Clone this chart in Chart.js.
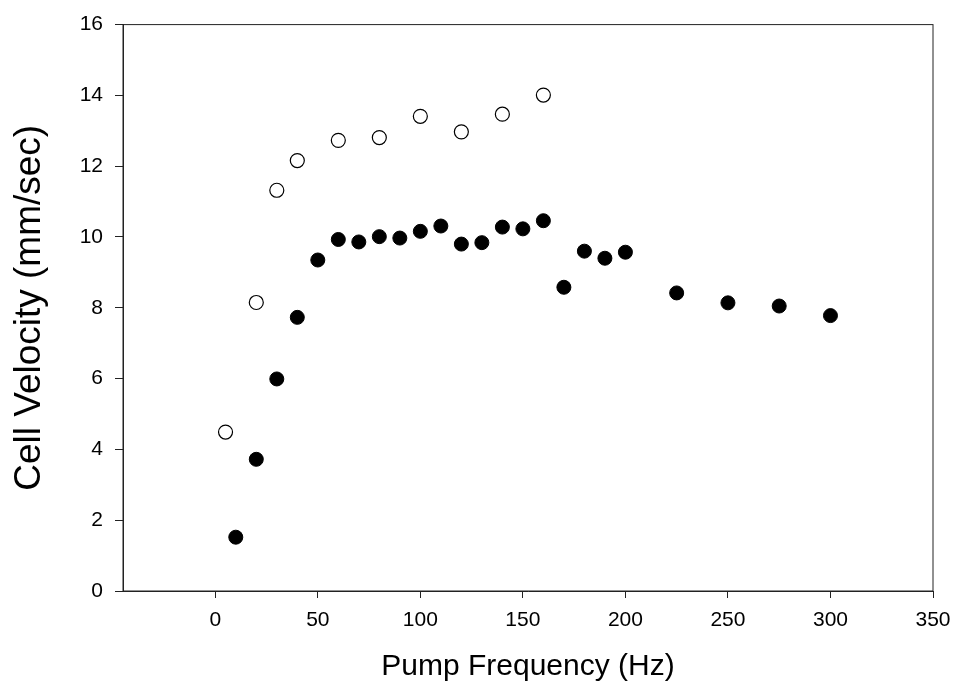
<!DOCTYPE html>
<html>
<head>
<meta charset="utf-8">
<script src="https://cdn.jsdelivr.net/npm/chart.js@4/dist/chart.umd.min.js"></script>
<style>
  html, body { margin: 0; padding: 0; background: #fff; }
  #wrap { width: 954px; height: 696px; }
</style>
</head>
<body>
<div id="wrap"><canvas id="chart"></canvas></div>
<script>
// filled circles series
const filledFreq = [10, 20, 30, 40, 50, 60, 70, 80, 90, 100, 110, 120, 130, 140, 150, 160, 170, 180, 190, 200, 225, 250, 275, 300];
const filledVel  = [1.52, 3.72, 5.99, 7.73, 9.35, 9.93, 9.86, 10.01, 9.97, 10.16, 10.31, 9.80, 9.84, 10.28, 10.23, 10.46, 8.58, 9.60, 9.40, 9.57, 8.42, 8.14, 8.05, 7.78];

// open circles series
const openFreq = [5, 20, 30, 40, 60, 80, 100, 120, 140, 160];
const openVel  = [4.49, 8.15, 11.32, 12.16, 12.73, 12.81, 13.41, 12.97, 13.47, 14.01];

// tick labels
const xTicks = [0, 50, 100, 150, 200, 250, 300, 350];
const yTicks = [0, 2, 4, 6, 8, 10, 12, 14, 16];

const FONT = 'Arial, "Liberation Sans", sans-serif';

function toPoints(xs, ys) {
    return xs.map((x, i) => ({ x: x, y: ys[i] }));
}

// box around the plot area (top and right edges)
const frame = {
    id: 'frame',
    afterDraw(chart) {
        const a = chart.chartArea;
        const c = chart.ctx;
        c.save();
        c.strokeStyle = '#222';
        c.lineWidth = 1;
        c.strokeRect(a.left, a.top, a.right - a.left, a.bottom - a.top);
        c.restore();
    }
};

new Chart(document.getElementById('chart'), {
    type: 'scatter',
    data: {
        datasets: [{
            label: 'filled',
            data: toPoints(filledFreq, filledVel),
            backgroundColor: '#000',
            borderColor: '#000',
            borderWidth: 1,
            pointRadius: 7,
            pointHoverRadius: 7
        }, {
            label: 'open',
            data: toPoints(openFreq, openVel),
            backgroundColor: '#fff',
            borderColor: '#000',
            borderWidth: 1.2,
            pointRadius: 7,
            pointHoverRadius: 7
        }]
    },
    options: {
        responsive: true,
        maintainAspectRatio: false,
        animation: false,
        layout: { padding: { left: 0, right: 21, top: 24, bottom: 0 } },
        plugins: {
            legend: { display: false },
            tooltip: { enabled: false }
        },
        scales: {
            x: {
                type: 'linear',
                min: -45,
                max: 350,
                afterBuildTicks: (s) => { s.ticks = xTicks.map(v => ({ value: v })); },
                afterFit: (s) => { s.height = 105; s.paddingRight = 0; s.paddingLeft = 0; },
                grid: { drawOnChartArea: false, drawTicks: true, tickLength: 7, color: '#222' },
                border: { display: true, color: '#222', width: 1 },
                ticks: { color: '#000', font: { family: FONT, size: 21 }, padding: 10, maxRotation: 0 },
                title: {
                    display: true,
                    text: 'Pump Frequency (Hz)',
                    color: '#000',
                    font: { family: FONT, size: 30 },
                    padding: { top: 0, bottom: 11 }
                }
            },
            y: {
                type: 'linear',
                min: 0,
                max: 16,
                afterBuildTicks: (s) => { s.ticks = yTicks.map(v => ({ value: v })); },
                afterFit: (s) => { s.width = 123; },
                grid: { drawOnChartArea: false, drawTicks: true, tickLength: 8, color: '#222' },
                border: { display: true, color: '#222', width: 1 },
                ticks: { color: '#000', font: { family: FONT, size: 21 }, padding: 12 },
                title: {
                    display: true,
                    text: 'Cell Velocity (mm/sec)',
                    color: '#000',
                    font: { family: FONT, size: 37 },
                    padding: { top: 8, bottom: 0 }
                }
            }
        }
    },
    plugins: [frame]
});
</script>
</body>
</html>
